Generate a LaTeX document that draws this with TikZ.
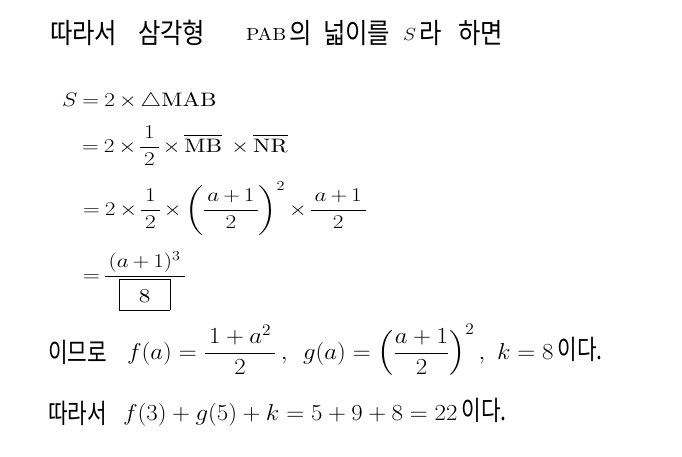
\RequirePackage{fix-cm}
\documentclass[tikz,border=0pt]{standalone}
\usepackage{amsmath}
\usepackage{fontspec}
\setmainfont{lmroman10-regular.otf}[ItalicFont=lmroman10-italic.otf, BoldFont=lmroman10-bold.otf]
\newfontfamily\kr{Noto Sans CJK KR}
\newcommand\fr[2]{\dfrac{\,#1\,}{\,#2\,}}
\newcommand\eqsp{\medmuskip=3mu\relax\thickmuskip=4mu\relax\nulldelimiterspace=0pt\relax}
\setlength\fboxsep{0pt}
\setlength\fboxrule{0.5pt}
\tikzset{
  txt/.style={anchor=base west, inner sep=0pt, outer sep=0pt},
  ttl/.style={txt, xscale=1.12, font=\fontsize{17.5}{20}\selectfont},
  eq/.style={txt, xscale=1.19, font=\fontsize{19.5}{22}\selectfont},
  bot/.style={txt, xscale=1.08, font=\fontsize{23}{26}\selectfont},
  krt/.style={txt, xscale=0.87, font=\fontsize{28}{30}\kr},
  krb/.style={txt, xscale=0.79, font=\fontsize{27}{30}\kr},
}
\begin{document}
\begin{tikzpicture}
\fill[white] (0,0) rectangle (682pt,-456pt);
\useasboundingbox (0,0) rectangle (682pt,-456pt);
% title line
\node[krt] (t1) at (50pt,-43pt) {따라서};
\node[krt] (t2) at (138pt,-43pt) {삼각형};
\node[ttl] (t3) at (246pt,-40pt) {PAB};
\node[krt] (t4) at (289pt,-43pt) {의};
\node[krt] (t5) at (323pt,-43pt) {넓이를};
\node[ttl] (t6) at (403pt,-40pt) {$S$};
\node[krt] (t7) at (419pt,-43pt) {라};
\node[krt] (t8) at (458pt,-43pt) {하면};
% equations
\node[eq] (e1) at (62pt,-106pt) {\eqsp$S=2\times\triangle\mathrm{MAB}$};
\node[eq] (e2) at (82pt,-152pt) {\eqsp$\displaystyle =2\times\fr{1}{2}\times\overline{\mathrm{MB}}\;\times\overline{\mathrm{NR}}$};
\node[eq] (e3) at (83pt,-215pt) {\eqsp$\displaystyle =2\times\fr{1}{2}\times\left(\fr{a+1}{2}\right)^{2}\times\fr{a+1}{2}$};
\node[eq] (e4) at (83pt,-281pt) {\eqsp$\displaystyle =\fr{(a+1)^{3}}{\fbox{\rule[-7.5pt]{0pt}{30pt}\makebox[42pt]{8}}}$};
% conclusion lines
\node[krb] (k5) at (48pt,-362pt) {이므로};
\node[bot] (m5a) at (127pt,-359pt) {$\displaystyle f(a)=\fr{1+a^{2}}{2}\,,$};
\node[bot] (m5b) at (303pt,-359pt) {$\displaystyle g(a)=\left(\dfrac{a+1}{2}\right)^{2},$};
\node[bot] (m5c) at (497pt,-359pt) {$k=8$};
\node[krb] (k5b) at ([xshift=4pt]m5c.base east) {이다.};
\node[krb] (k7) at (48pt,-423pt) {따라서};
\node[bot] (m7) at (123pt,-420pt) {$f(3)+g(5)+k=5+9+8=22$};
\node[krb] (k7b) at ([xshift=4pt]m7.base east) {이다.};
\end{tikzpicture}
\end{document}
